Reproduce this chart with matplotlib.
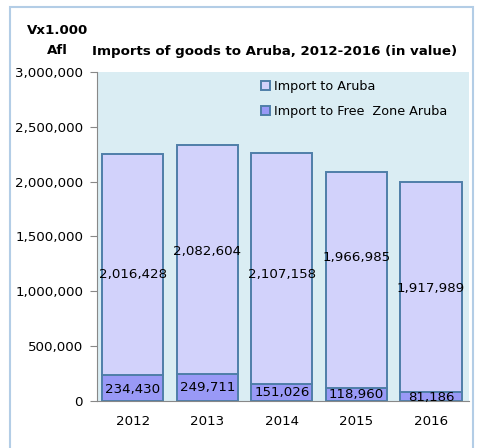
"""Stacked bars: imports of goods to Aruba 2012-2016 (value, x1.000 Afl)."""

import matplotlib

matplotlib.use("Agg")
import matplotlib.pyplot as plt
from matplotlib.patches import Rectangle
from matplotlib.ticker import FuncFormatter, MultipleLocator

years = ["2012", "2013", "2014", "2015", "2016"]
free_zone = [234430, 249711, 151026, 118960, 81186]
import_aruba = [2016428, 2082604, 2107158, 1966985, 1917989]

COLOR_TOP = "#d2d2fb"
COLOR_BOTTOM = "#9999f6"
EDGE = "#4f7ea8"
PLOT_BG = "#daedf3"

plt.rcParams["font.family"] = ["DejaVu Sans"]

fig = plt.figure(figsize=(4.84, 4.48), dpi=100)
ax = fig.add_axes([0.2004, 0.1049, 0.7686, 0.7344])
ax.set_facecolor(PLOT_BG)

x = list(range(len(years)))
ax.bar(x, free_zone, width=0.82, color=COLOR_BOTTOM, edgecolor=EDGE, linewidth=1.4,
       label="Import to Free  Zone Aruba", zorder=2)
ax.bar(x, import_aruba, width=0.82, bottom=free_zone, color=COLOR_TOP, edgecolor=EDGE,
       linewidth=1.4, label="Import to Aruba", zorder=2)

# labels: bottom segment roughly centred, top segment placed like the original
bottom_shift = [-8000, -6000, -2000, -4000, -5000]
top_label_y = [1149000, 1359000, 1149000, 1313000, 1030000]
for i in x:
    ax.text(i, free_zone[i] / 2 + bottom_shift[i], f"{free_zone[i]:,}", ha="center",
            va="center", fontsize=9.6, color="black", zorder=3)
    ax.text(i, top_label_y[i], f"{import_aruba[i]:,}", ha="center", va="center",
            fontsize=9.6, color="black", zorder=3)

ax.set_xlim(-0.48, 4.51)
ax.set_ylim(0, 3000000)
ax.yaxis.set_major_locator(MultipleLocator(500000))
ax.yaxis.set_major_formatter(FuncFormatter(lambda v, _: f"{int(v):,}"))
ax.set_xticks(x)
ax.set_xticklabels(years)
ax.tick_params(axis="y", labelsize=9.6, length=5, color="#888888", pad=5)
ax.tick_params(axis="x", labelsize=9.6, length=0, pad=10)
for side in ("top", "right"):
    ax.spines[side].set_visible(False)
for side in ("left", "bottom"):
    ax.spines[side].set_color("#888888")

handles, labels = ax.get_legend_handles_labels()
leg = ax.legend(handles[::-1], labels[::-1], loc="upper left", bbox_to_anchor=(0.41, 1.01),
                frameon=False, fontsize=9.2, handlelength=0.7, handleheight=0.7,
                handletextpad=0.3, labelspacing=0.9)

fig.text(0.568, 0.884, "Imports of goods to Aruba, 2012-2016 (in value)", ha="center",
         va="center", fontsize=9.6, fontweight="bold")
fig.text(0.118, 0.933, "Vx1.000", ha="center", va="center", fontsize=9.6, fontweight="bold")
fig.text(0.118, 0.888, "Afl", ha="center", va="center", fontsize=9.6, fontweight="bold")

fig.patches.append(Rectangle((10 / 484, -0.05), 463 / 484, 1.05 - 7 / 448,
                             transform=fig.transFigure, fill=False, edgecolor="#b3cde6",
                             linewidth=1.5))

fig.savefig("out.png", dpi=100)
